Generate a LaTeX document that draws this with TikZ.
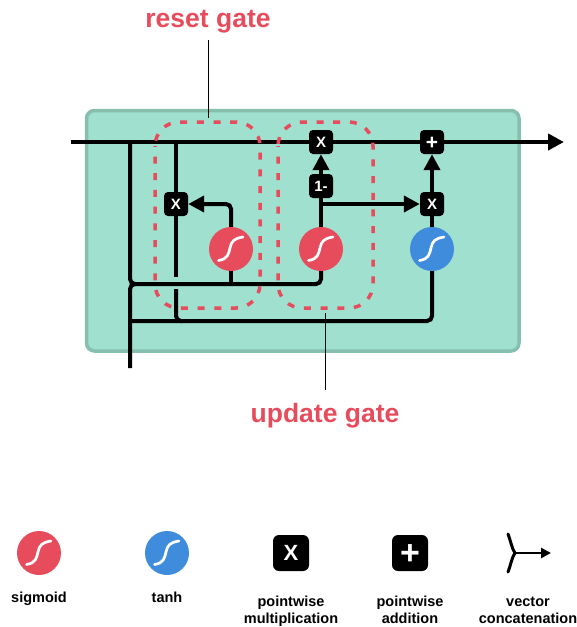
\documentclass[tikz,border=0pt]{standalone}
\usepackage{fontspec}
\setmainfont{Liberation Sans}
\usetikzlibrary{arrows.meta,positioning,calc}
\definecolor{cellfill}{HTML}{A0E0CE}
\definecolor{celledge}{HTML}{86BFAE}
\definecolor{gatered}{HTML}{E64C5C}
\definecolor{gateblue}{HTML}{3F8BDC}
\tikzset{
  cellbox/.style={
    draw=celledge,
    fill=cellfill,
    line width=3.5pt,
    rounded corners=8pt
  },
  activation/.style={
    circle,
    draw=none,
    minimum size=44pt,
    inner sep=0pt
  },
  opbox/.style={
    rectangle,
    fill=black,
    text=white,
    rounded corners=4pt,
    minimum size=24pt,
    inner sep=0pt,
    font=\fontsize{15}{15}\bfseries
  },
  plusbox/.style={
    opbox,
    font=\fontsize{21}{21}\bfseries
  },
  legendbox/.style={
    opbox,
    minimum size=36pt,
    rounded corners=6pt,
    font=\fontsize{22}{22}\bfseries
  },
  flowline/.style={
    line width=4pt,
    draw=black,
    rounded corners=5pt
  },
  flowarrow/.style={
    flowline,
    -{Triangle[length=16pt,width=16pt]}
  },
  gatezone/.style={
    draw=gatered,
    line width=3.5pt,
    dash pattern=on 7pt off 9.7pt,
    dash phase=6.2pt,
    rounded corners=24pt
  },
  leader/.style={line width=1pt,draw=black},
  gatelabel/.style={
    text=gatered,
    font=\fontsize{26.5}{26.5}\bfseries
  },
  legendlabel/.style={
    align=center,
    font=\fontsize{14.5}{17}\bfseries
  },
  concatline/.style={line width=3pt,draw=black,line cap=round},
  scurve/.style={line width=2.7pt,draw=white,line cap=round}
}
% white S inside an activation circle
\newcommand{\scurveat}[1]{
  \draw[scurve] ($(#1)+(-12.5,11.5)$) .. controls ($(#1)+(-3,10)$) and ($(#1)+(-2.5,5)$) .. ($(#1)+(-1,-1)$)
    .. controls ($(#1)+(0.5,-8)$) and ($(#1)+(3,-10.5)$) .. ($(#1)+(12,-12)$);
}
\begin{document}
\begin{tikzpicture}[x=1pt,y=-1pt,on grid]
  \useasboundingbox (0,0) rectangle (577,627);
  \draw[cellbox] (86.5,110.5) rectangle (519,351);

  \node[activation,fill=gatered] (sigmoidreset) at (231,249) {};
  \node[activation,fill=gatered,right=90pt of sigmoidreset] (sigmoidupdate) {};
  \node[activation,fill=gateblue,right=111pt of sigmoidupdate] (tanhcell) {};
  \scurveat{sigmoidreset}
  \scurveat{sigmoidupdate}
  \scurveat{tanhcell}

  \node[opbox,above left=45pt and 55pt of sigmoidreset] (multreset) {X};
  \node[opbox,above=107pt of sigmoidupdate] (multtop) {X};
  \node[opbox,above=63pt of sigmoidupdate] (oneminus) {1-};
  \node[opbox,above=45pt of tanhcell] (multupdate) {X};
  \node[plusbox,above=107pt of tanhcell] (addtop) {\raisebox{-7.3pt}[0pt][0pt]{+}};

  \coordinate (cellin) at (71,142);
  \coordinate (cellout) at (564,142);
  \coordinate (splitstate) at (130,142);
  \coordinate (splitreset) at (176,142);
  \coordinate (inputbase) at (130,368);
  \coordinate (gapupper) at (176,277);
  \coordinate (gaplower) at (176,289);
  \coordinate (bottomrun) at (130,321);
  \coordinate (updatebranch) at (321,204);

  \draw[flowline] (cellin) -- (multtop.west);
  \draw[flowline] (multtop.east) -- (addtop.west);
  \draw[flowarrow] (addtop.east) -- (cellout);

  % state comes down the left side, input comes up from below
  \draw[flowline] (splitstate) -- (130,284) -- (sigmoidupdate.south |- 0,284) -- (sigmoidupdate.south);
  \draw[flowline] (inputbase) -- (130,284) -- (136,284);
  \draw[flowline] (sigmoidreset.south) -- (sigmoidreset.south |- 0,284);
  \draw[flowline] (bottomrun) -- (tanhcell.south |- 0,321) -- (tanhcell.south);

  \draw[flowline] (splitreset) -- (multreset.north);
  \draw[flowline] (multreset.south) -- (gapupper);
  \draw[flowline] (gaplower) -- (176,321) -- (182,321);

  \draw[flowarrow] (sigmoidreset.north) -- (sigmoidreset.north |- multreset) -- (multreset.east);
  \draw[flowline] (sigmoidupdate.north) -- (oneminus.south);
  \draw[flowarrow] (oneminus.north) -- (multtop.south);
  \draw[flowarrow] (updatebranch) -- (multupdate.west);
  \draw[flowline] (tanhcell.north) -- (multupdate.south);
  \draw[flowarrow] (multupdate.north) -- (addtop.south);

  \draw[gatezone] (155,122) rectangle (260,308);
  \draw[gatezone] (278,122) rectangle (373,308);

  \node[gatelabel] (resetlabel) at (208,22) {reset gate};
  \node[gatelabel] (updatelabel) at (325,416) {update gate};
  \coordinate (resetend) at (208,118);
  \coordinate (updateend) at (325,313);
  \draw[leader] (208,40) -- (resetend);
  \draw[leader] (updateend) -- (325,390);

  % legend row
  \node[activation,fill=gatered] (keysigmoid) at (39,553) {};
  \node[activation,fill=gateblue,right=128pt of keysigmoid] (keytanh) {};
  \scurveat{keysigmoid}
  \scurveat{keytanh}
  \node[legendbox,right=124pt of keytanh] (keymult) {X};
  \node[legendbox,font=\fontsize{34}{34}\bfseries,right=119pt of keymult] (keyadd) {\raisebox{-11.9pt}[0pt][0pt]{+}};
  \node[legendlabel,below=46pt of keysigmoid] (sigmoidtext) {sigmoid\strut};
  \node[legendlabel,below=46pt of keytanh] (tanhtext) {tanh\strut};
  \node[legendlabel,below=59pt of keymult] (multtext) {pointwise\strut\\multiplication\strut};
  \node[legendlabel,below=59pt of keyadd] (addtext) {pointwise\strut\\addition\strut};
  \node[legendlabel] (concattext) at (528,612) {vector\strut\\concatenation\strut};

  \coordinate (concatjoin) at (515,553);
  \coordinate (concatup) at (508,534);
  \coordinate (concatdown) at (508,572);
  \coordinate (concatout) at (551,553);
  \draw[concatline] (concatup) .. controls (511,542) and (512,549) .. (concatjoin);
  \draw[concatline] (concatdown) .. controls (511,564) and (512,557) .. (concatjoin);
  \draw[line width=2.5pt,-{Triangle[length=10pt,width=10pt]}] (concatjoin) -- (concatout);
\end{tikzpicture}
\end{document}
